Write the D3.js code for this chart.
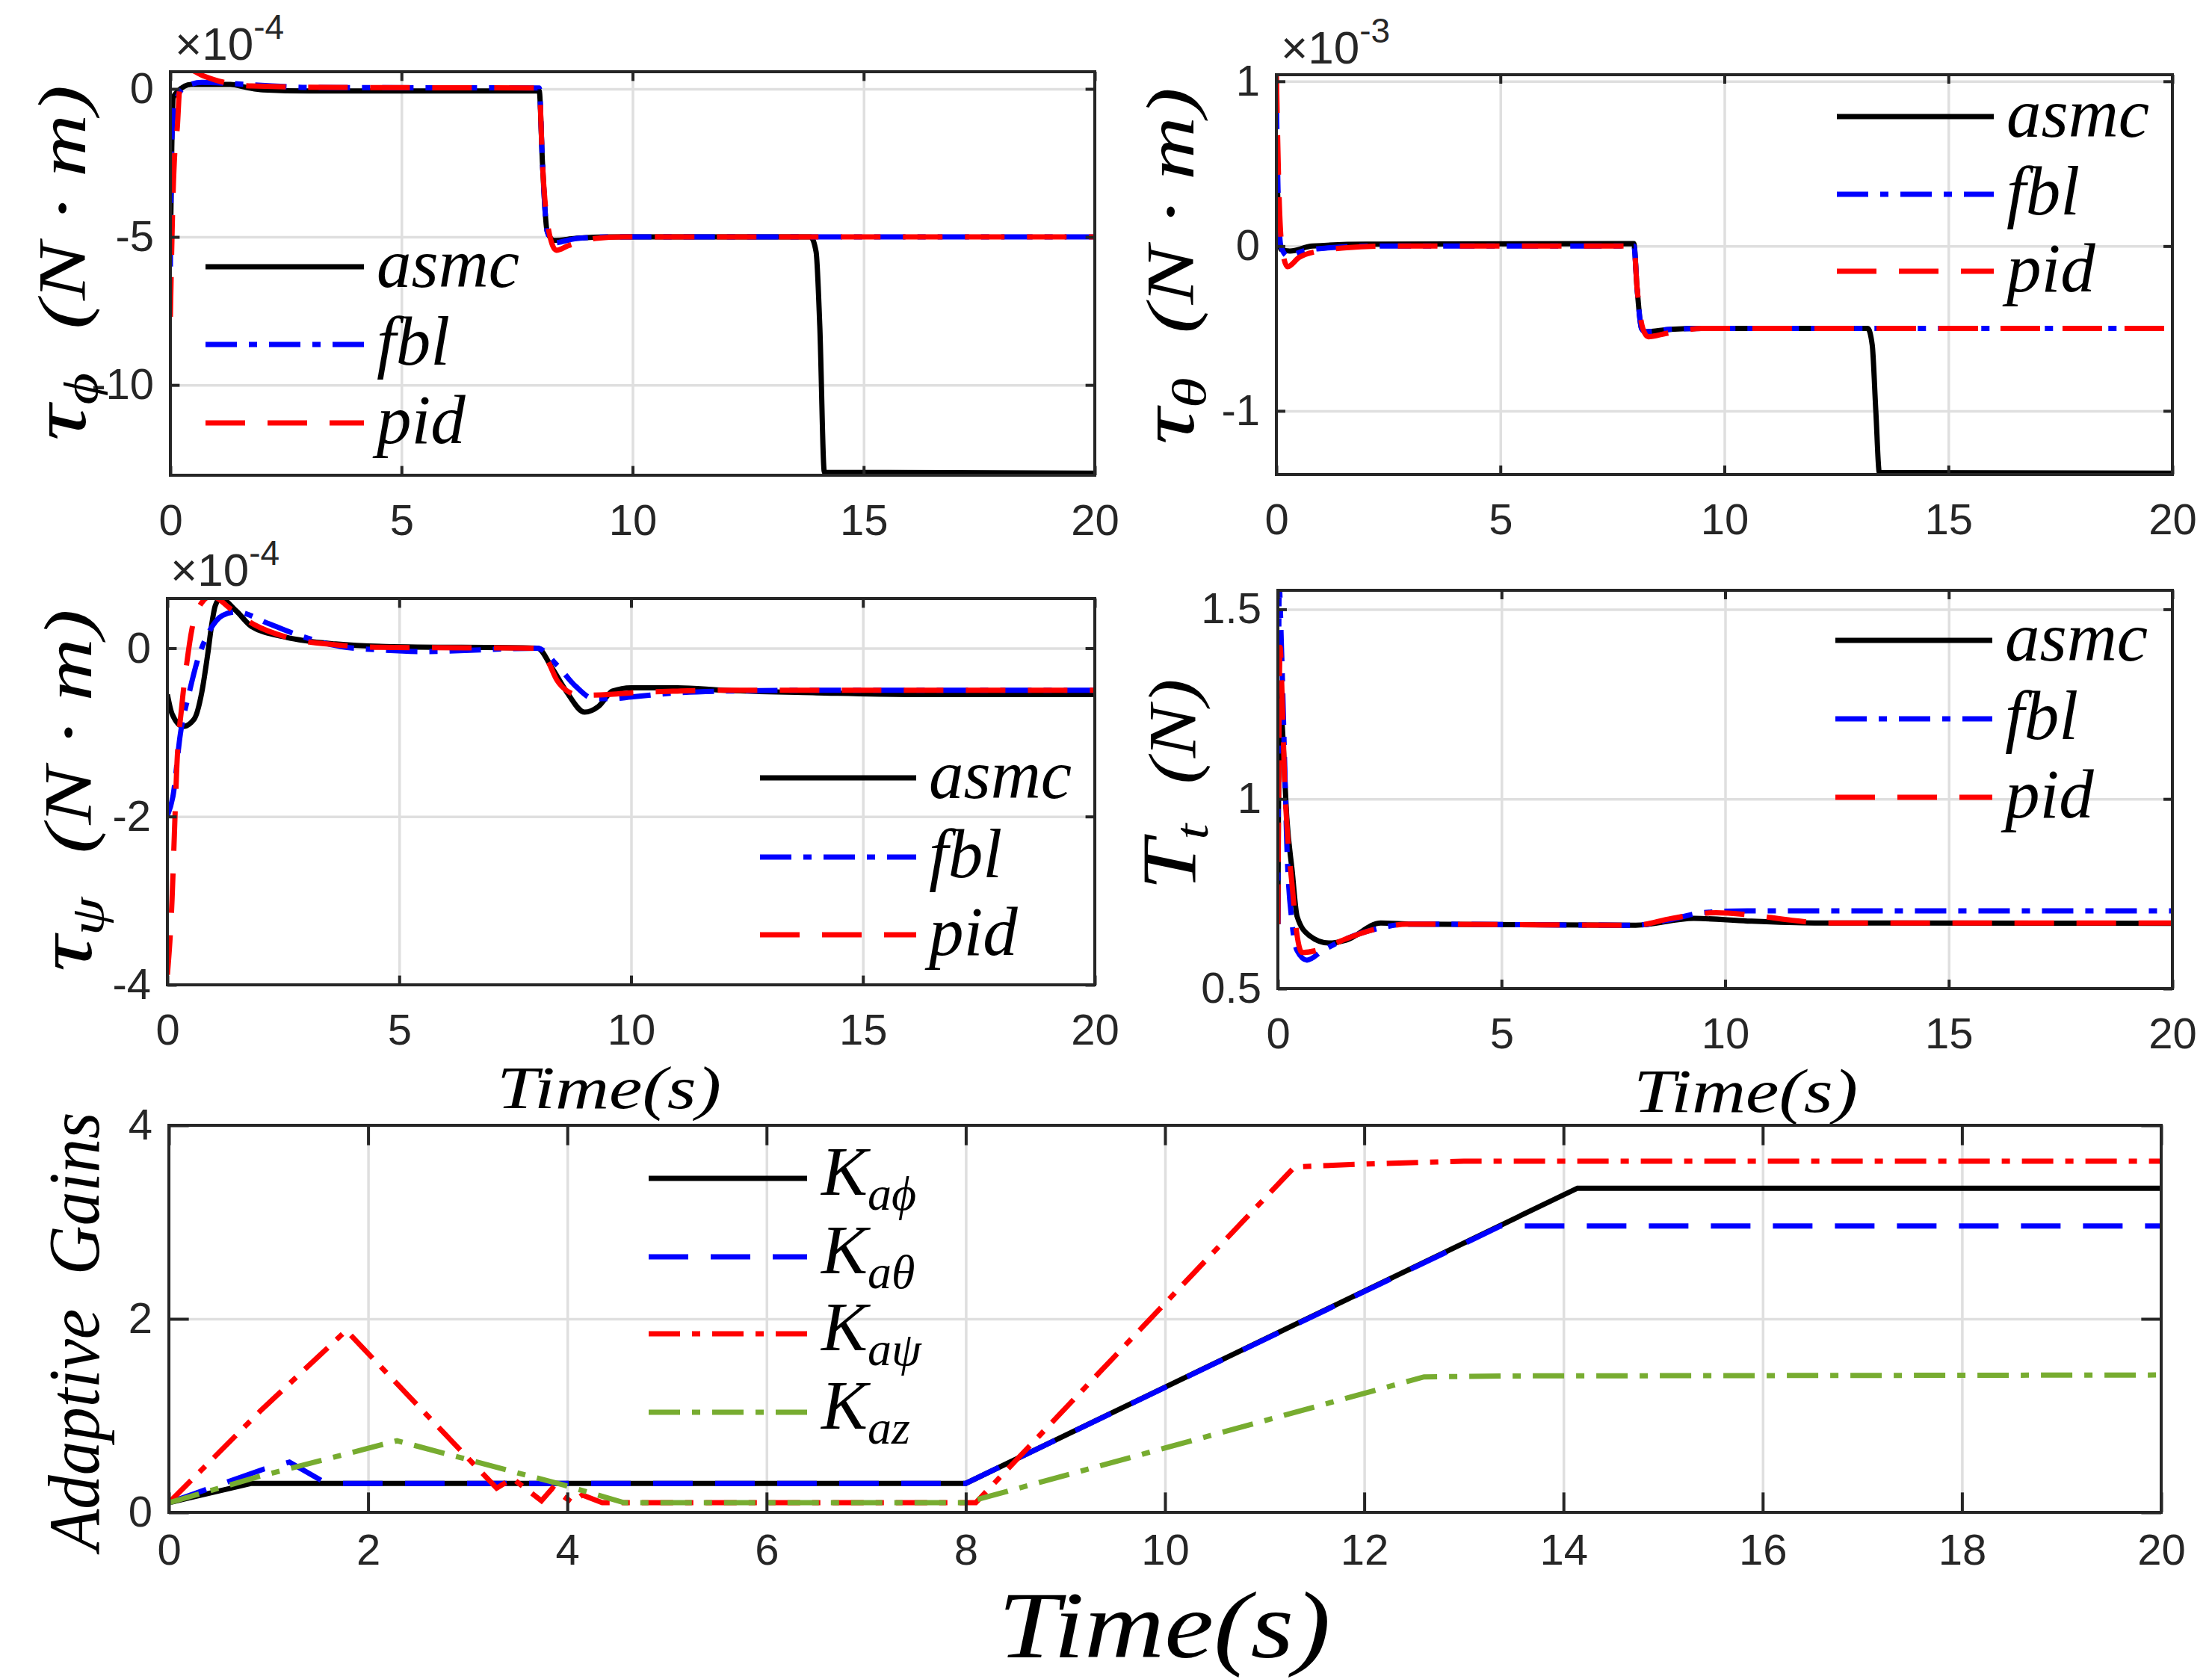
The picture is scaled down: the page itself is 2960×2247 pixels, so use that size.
<!DOCTYPE html>
<html>
<head>
<meta charset="utf-8">
<script src="https://cdn.jsdelivr.net/npm/d3@7"></script>
<style>
body { margin: 0; background: #fff; }
.math { font-family: "Liberation Serif", "Times New Roman", serif; font-style: italic; fill: #000; white-space: pre; }
</style>
</head>
<body>
<svg id="fig"></svg>
<script>
// ---- data ----
var timeTicks = [0, 5, 10, 15, 20];
var gainTimeTicks = [0, 2, 4, 6, 8, 10, 12, 14, 16, 18, 20];
var controllers = ["asmc", "fbl", "pid"];
var gainNames = ["a\u03d5", "a\u03b8", "a\u03c8", "az"];

// tau_phi, x 1e-4
var tauPhiTicks = [-10, -5, 0];
var tauPhiAsmc = [[0,-5.5],[0.03,-2],[0.06,-0.3],[0.15,-0.1],[0.45,0.15],[1.3,0.15],[1.65,0.05],[2,-0.03],[3,-0.07],[7.98,-0.07],
  [8.05,-2.5],[8.15,-4.8],[8.3,-5.12],[8.8,-5.04],[9.5,-5.0],[13.85,-5.0],[13.97,-5.5],[14.05,-8],[14.15,-12.95],[20,-12.98]];
var tauPhiFbl = [[0,-6],[0.03,-1.75],[0.1,-0.5],[0.3,0.05],[0.68,0.22],[1.33,0.18],[2.2,0.1],[3,0.05],[7.98,0.03],
  [8.05,-2.5],[8.15,-4.8],[8.3,-5.2],[8.8,-5.05],[9.5,-5.0],[20,-5.0]];
var tauPhiPid = [[0,-7.7],[0.05,-4],[0.1,-2],[0.15,-1.3],[0.2,0],[0.3,0.45],[0.4,0.65],[0.7,0.45],[1.16,0.22],[1.76,0.1],[3.6,0.05],[7.98,0.03],
  [8.05,-2.5],[8.2,-4.9],[8.35,-5.45],[8.6,-5.3],[9.2,-5.05],[9.8,-5.0],[20,-5.0]];

// tau_theta, x 1e-3
var tauThetaTicks = [-1, 0, 1];
var tauThetaAsmc = [[0,0.6],[0.04,0.2],[0.1,-0.02],[0.3,-0.03],[0.8,0.0],[2,0.012],[7.98,0.015],
  [8.05,-0.25],[8.15,-0.5],[8.25,-0.52],[8.8,-0.505],[9.5,-0.5],[13.2,-0.5],[13.3,-0.6],[13.38,-1.0],[13.46,-1.375],[20,-1.378]];
var tauThetaFbl = [[0,0.9],[0.04,0.3],[0.1,0.0],[0.25,-0.06],[0.6,-0.03],[1.2,-0.01],[2,0],[7.98,0],
  [8.05,-0.25],[8.15,-0.5],[8.22,-0.52],[8.8,-0.505],[9.5,-0.5],[20,-0.5]];
var tauThetaPid = [[0,1.05],[0.05,0.4],[0.12,0.0],[0.25,-0.125],[0.5,-0.07],[0.94,-0.03],[1.57,-0.01],[2.5,0],[7.98,0],
  [8.05,-0.25],[8.18,-0.5],[8.3,-0.55],[8.7,-0.53],[9.5,-0.5],[20,-0.5]];

// tau_psi, x 1e-4
var tauPsiTicks = [-4, -2, 0];
var tauPsiAsmc = [[0,-0.55],[0.1,-0.78],[0.34,-0.93],[0.58,-0.84],[0.74,-0.53],[0.87,-0.07],[0.95,0.26],[1.03,0.5],[1.14,0.59],
  [1.49,0.44],[1.81,0.26],[2.56,0.13],[3.63,0.05],[4.7,0.02],[7.98,0],
  [8.3,-0.24],[8.6,-0.51],[9.0,-0.76],[9.3,-0.69],[9.6,-0.51],[10,-0.47],[11,-0.47],[12,-0.5],[14,-0.53],[16,-0.55],[20,-0.55]];
var tauPsiFbl = [[0,-1.99],[0.12,-1.76],[0.28,-1.02],[0.47,-0.53],[0.68,-0.09],[0.84,0.13],[1.19,0.39],[1.49,0.43],[2.19,0.29],
  [2.8,0.16],[3.74,0.02],[4.55,-0.02],[5.5,-0.04],[7.98,0],
  [8.4,-0.2],[8.8,-0.45],[9.2,-0.6],[9.6,-0.6],[10,-0.58],[11,-0.53],[12,-0.51],[14,-0.5],[20,-0.5]];
var tauPsiPid = [[0,-3.88],[0.1,-2.99],[0.15,-2.22],[0.2,-1.45],[0.31,-0.69],[0.42,-0.17],[0.53,0.23],[0.74,0.54],[0.95,0.62],
  [1.38,0.46],[1.87,0.28],[2.57,0.13],[3.63,0.04],[4.6,0.01],[7.98,0],
  [8.2,-0.15],[8.4,-0.38],[8.6,-0.5],[8.9,-0.56],[9.5,-0.55],[10,-0.53],[11,-0.51],[12,-0.5],[20,-0.5]];

// T_t
var thrustTicks = [0.5, 1, 1.5];
var thrustAsmc = [[0,0.67],[0.04,1.3],[0.1,1.19],[0.2,0.95],[0.32,0.81],[0.43,0.69],[0.7,0.64],[1.14,0.62],[1.53,0.628],[2.3,0.673],
  [3,0.67],[8,0.667],[9.3,0.685],[10.5,0.678],[12,0.673],[20,0.672]];
var thrustFbl = [[0,0.67],[0.03,1.56],[0.08,1.4],[0.15,1.1],[0.2,0.88],[0.32,0.67],[0.43,0.6],[0.65,0.575],[1.0,0.6],[1.5,0.63],
  [2.3,0.66],[2.9,0.67],[8,0.667],[8.7,0.68],[9.5,0.7],[10.5,0.705],[20,0.705]];
var thrustPid = [[0,0.67],[0.05,1.4],[0.1,1.25],[0.15,1.05],[0.22,0.9],[0.32,0.77],[0.43,0.64],[0.54,0.595],[1.0,0.605],[1.5,0.63],
  [2.3,0.66],[2.9,0.67],[8,0.667],[8.8,0.685],[9.8,0.70],[10.5,0.695],[11.5,0.68],[12.2,0.673],[20,0.673]];

// adaptive gains
var gainTicks = [0, 2, 4];
var gainPhi = [[0,0.1],[0.83,0.3],[8,0.3],[14.14,3.35],[20,3.35]];
var gainTheta = [[0,0.1],[0.96,0.45],[1.21,0.52],[1.53,0.33],[1.65,0.3],[8,0.3],[13.37,2.96],[20,2.96]];
var gainPsi = [[0,0.1],[0.92,1.05],[1.78,1.88],[3.29,0.25],[3.45,0.35],[3.74,0.12],[3.85,0.25],[4.05,0.1],[4.15,0.18],[4.35,0.1],
  [8.1,0.1],[11.3,3.57],[12,3.6],[13,3.63],[20,3.63]];
var gainZ = [[0,0.1],[0.9,0.37],[2.29,0.74],[3.97,0.28],[4.57,0.1],[8,0.1],[12.6,1.4],[13.5,1.41],[20,1.42]];

// ---- styles ----
var W = 2960, H = 2247;
var axisColor = "#262626", gridColor = "#dfdfdf";
var tickFont = '"Liberation Sans", Arial, Helvetica, sans-serif';
var lineW = 7;
var solid = null, dashed = "53,30", dashDot = "42,16,11,16";

var svg = d3.select("#fig").attr("width", W).attr("height", H)
  .attr("viewBox", "0 0 " + W + " " + H).style("background", "#fff");

function ctrlSeries(a, f, p) {
  return [
    { data: a, color: "#000000", dash: solid },
    { data: f, color: "#0000ff", dash: dashDot },
    { data: p, color: "#ff0000", dash: dashed }
  ];
}

var panels = [
  { id: "phi", box: [228, 96, 1465, 636], yDomain: [-13.05, 0.58], yTicks: tauPhiTicks, xTicks: timeTicks, xPad: 39,
    series: ctrlSeries(tauPhiAsmc, tauPhiFbl, tauPhiPid), curve: d3.curveMonotoneX,
    exp: { x: 234, y: 80, p: "-4" },
    legend: { x1: 275, x2: 487, tx: 504, ys: [357, 461, 566] },
    ylab: { x: 114, y: 352, sym: "\u03c4", sub: "\u03d5", rest: "  (N \u00b7 m)", len: 476 } },
  { id: "theta", box: [1708, 100, 2907, 635], yDomain: [-1.386, 1.04], yTicks: tauThetaTicks, xTicks: timeTicks, xPad: 39,
    series: ctrlSeries(tauThetaAsmc, tauThetaFbl, tauThetaPid), curve: d3.curveMonotoneX,
    exp: { x: 1714, y: 85, p: "-3" },
    legend: { x1: 2458, x2: 2668, tx: 2685, ys: [156, 260, 363] },
    ylab: { x: 1597, y: 356, sym: "\u03c4", sub: "\u03b8", rest: "  (N \u00b7 m)", len: 478 } },
  { id: "psi", box: [224, 801, 1465, 1318], yDomain: [-4, 0.59], yTicks: tauPsiTicks, xTicks: timeTicks, xPad: 39,
    series: ctrlSeries(tauPsiAsmc, tauPsiFbl, tauPsiPid), curve: d3.curveMonotoneX,
    exp: { x: 228, y: 784, p: "-4" },
    legend: { x1: 1017, x2: 1226, tx: 1243, ys: [1041, 1147, 1251] },
    ylab: { x: 122, y: 1058, sym: "\u03c4", sub: "\u03c8", rest: "  (N \u00b7 m)", len: 485 },
    xlab: { x: 815, y: 1483, size: 80, len: 300 } },
  { id: "thrust", box: [1710, 790, 2907, 1323], yDomain: [0.5, 1.55], yTicks: thrustTicks, xTicks: timeTicks, xPad: 39,
    series: ctrlSeries(thrustAsmc, thrustFbl, thrustPid), curve: d3.curveMonotoneX,
    legend: { x1: 2456, x2: 2666, tx: 2683, ys: [857, 962, 1067] },
    ylab: { x: 1600, y: 1050, sym: "T", sub: "t", rest: "  (N)", len: 283 },
    xlab: { x: 2336, y: 1488, size: 82, len: 300 } },
  { id: "gain", box: [226, 1506, 2892, 2024], yDomain: [0, 4], yTicks: gainTicks, xTicks: gainTimeTicks, xPad: 29,
    series: [
      { data: gainPhi, color: "#000000", dash: solid },
      { data: gainTheta, color: "#0000ff", dash: dashed },
      { data: gainPsi, color: "#ff0000", dash: dashDot },
      { data: gainZ, color: "#77ac30", dash: dashDot }
    ], curve: d3.curveLinear,
    legend: { x1: 868, x2: 1080, tx: 1099, ys: [1577, 1682, 1785, 1890], gains: true },
    ylab: { x: 132, y: 1782, text: "Adaptive  Gains", len: 587, size: 98 },
    xlab: { x: 1558, y: 2218, size: 128, len: 445 } }
];

function styleAxis(sel, showText) {
  sel.select(".domain").remove();
  sel.selectAll(".tick line").attr("stroke", axisColor).attr("stroke-width", 4);
  sel.attr("font-family", tickFont).attr("font-size", 58);
  sel.selectAll(".tick text").attr("fill", axisColor);
  if (!showText) sel.selectAll(".tick text").remove();
}

function drawPanel(p) {
  var L = p.box[0], T = p.box[1], R = p.box[2], B = p.box[3];
  var x = d3.scaleLinear().domain([0, 20]).range([L, R]);
  var y = d3.scaleLinear().domain(p.yDomain).range([B, T]);
  var tl = 0.01 * Math.max(R - L, B - T);
  var g = svg.append("g").attr("class", "panel-" + p.id);

  // grid
  g.append("g").attr("transform", "translate(0," + B + ")")
    .call(d3.axisBottom(x).tickValues(p.xTicks).tickSize(-(B - T)).tickFormat(""))
    .call(function (s) { s.select(".domain").remove(); s.selectAll("line").attr("stroke", gridColor).attr("stroke-width", 3.5); });
  g.append("g").attr("transform", "translate(" + L + ",0)")
    .call(d3.axisLeft(y).tickValues(p.yTicks).tickSize(-(R - L)).tickFormat(""))
    .call(function (s) { s.select(".domain").remove(); s.selectAll("line").attr("stroke", gridColor).attr("stroke-width", 3.5); });

  // lines
  var cid = "clip-" + p.id;
  svg.append("clipPath").attr("id", cid).append("rect")
    .attr("x", L).attr("y", T).attr("width", R - L).attr("height", B - T);
  var line = d3.line().x(function (d) { return x(d[0]); }).y(function (d) { return y(d[1]); }).curve(p.curve);
  p.series.forEach(function (s) {
    g.append("path").attr("clip-path", "url(#" + cid + ")")
      .attr("d", line(s.data)).attr("fill", "none")
      .attr("stroke", s.color).attr("stroke-width", lineW)
      .attr("stroke-dasharray", s.dash);
  });

  // box
  g.append("rect").attr("x", L).attr("y", T).attr("width", R - L).attr("height", B - T)
    .attr("fill", "none").attr("stroke", axisColor).attr("stroke-width", 4);

  // ticks
  g.append("g").attr("transform", "translate(0," + B + ")")
    .call(d3.axisBottom(x).tickValues(p.xTicks).tickSize(-tl).tickPadding(p.xPad).tickFormat(String))
    .call(styleAxis, true);
  g.append("g").attr("transform", "translate(0," + T + ")")
    .call(d3.axisTop(x).tickValues(p.xTicks).tickSize(-tl)).call(styleAxis, false);
  g.append("g").attr("transform", "translate(" + L + ",0)")
    .call(d3.axisLeft(y).tickValues(p.yTicks).tickSize(-tl).tickPadding(22).tickFormat(String))
    .call(styleAxis, true);
  g.append("g").attr("transform", "translate(" + R + ",0)")
    .call(d3.axisRight(y).tickValues(p.yTicks).tickSize(-tl)).call(styleAxis, false);

  // exponent label
  if (p.exp) {
    var e = g.append("text").attr("x", p.exp.x).attr("y", p.exp.y)
      .attr("font-family", tickFont).attr("font-size", 62).attr("fill", axisColor);
    e.append("tspan").text("\u00d710");
    e.append("tspan").attr("font-size", 46).attr("dy", -28).text(p.exp.p);
  }

  // legend
  var lg = p.legend;
  p.series.forEach(function (s, i) {
    var ly = lg.ys[i];
    g.append("line").attr("x1", lg.x1).attr("x2", lg.x2).attr("y1", ly).attr("y2", ly)
      .attr("stroke", s.color).attr("stroke-width", lineW).attr("stroke-dasharray", s.dash);
    var t = g.append("text").attr("class", "math").attr("x", lg.tx).attr("y", ly + 27).attr("font-size", 93);
    if (lg.gains) {
      t.attr("y", ly + 22);
      t.append("tspan").text("K");
      t.append("tspan").attr("font-size", 64).attr("dy", 20).text(gainNames[i]);
    } else {
      t.text(controllers[i]);
    }
  });

  // y label
  var yl = p.ylab;
  var yt = g.append("text").attr("class", "math")
    .attr("transform", "translate(" + yl.x + "," + yl.y + ") rotate(-90)")
    .attr("text-anchor", "middle").attr("font-size", yl.size || 90)
    .attr("textLength", yl.len).attr("lengthAdjust", "spacingAndGlyphs");
  if (yl.text) {
    yt.text(yl.text);
  } else {
    yt.append("tspan").attr("font-size", 104).text(yl.sym);
    yt.append("tspan").attr("font-size", 64).attr("dy", 16).text(yl.sub);
    yt.append("tspan").attr("dy", -16).text(yl.rest);
  }

  // x label
  if (p.xlab) {
    g.append("text").attr("class", "math").attr("x", p.xlab.x).attr("y", p.xlab.y)
      .attr("text-anchor", "middle").attr("font-size", p.xlab.size)
      .attr("textLength", p.xlab.len).attr("lengthAdjust", "spacingAndGlyphs")
      .text("Time(s)");
  }
}

panels.forEach(drawPanel);
</script>
</body>
</html>
